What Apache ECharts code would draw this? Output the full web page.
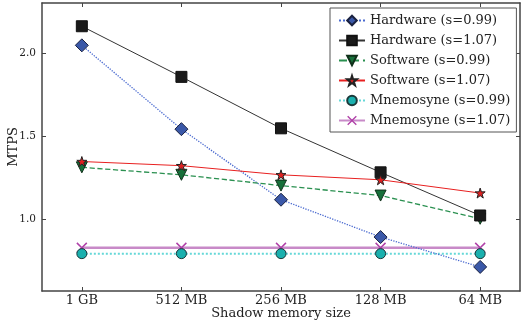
<!DOCTYPE html>
<html><head><meta charset="utf-8">
<script src="https://cdn.jsdelivr.net/npm/echarts@6/dist/echarts.min.js"></script>
<style>html,body{margin:0;padding:0;background:#fff}#c{width:524px;height:327px}</style>
</head><body><div id="c"></div>
<script>
const categories = ['1 GB','512 MB','256 MB','128 MB','64 MB'];
const yTicks = [1.0, 1.5, 2.0];
const hw099 = [2.045, 1.54, 1.115, 0.89, 0.71];
const hw107 = [2.16, 1.855, 1.545, 1.28, 1.02];
const sw099 = [1.31, 1.265, 1.2, 1.14, 1.0];
const sw107 = [1.345, 1.32, 1.265, 1.235, 1.155];
const mn099 = [0.79, 0.79, 0.79, 0.79, 0.79];
const mn107 = [0.825, 0.825, 0.825, 0.825, 0.825];

const F = 'DejaVu Serif';
const xIdx = categories.map((c,i)=>i);
const star = 'path://M5,0 L6.2,3.8 L10,3.8 L7,6.2 L8.1,10 L5,7.6 L1.9,10 L3,6.2 L0,3.8 L3.8,3.8 Z';
const xmark = 'path://M0,1 L1,0 L5,4 L9,0 L10,1 L6,5 L10,9 L9,10 L5,6 L1,10 L0,9 L4,5 Z';
function pts(arr){ return arr.map((v,i)=>[i,v]); }
function mk(name, data, sym, size, fill, border, bw, lineColor, lineType, lw, rot){
  return {name, type:'line', data: pts(data), symbol: sym, symbolSize: size, symbolRotate: rot||0,
    showAllSymbol:true,
    itemStyle:{color: fill, borderColor: border, borderWidth: bw},
    lineStyle:{color: lineColor, type: lineType, width: lw},
    emphasis:{disabled:true}, animation:false, z: 3};
}
const axLine = {show:true, onZero:false, lineStyle:{color:'#444', width:1.5}};
const chart = echarts.init(document.getElementById('c'), null, {renderer:'canvas'});
chart.setOption({
  animation:false,
  grid:{left:42, right:4, top:3, bottom:36, containLabel:false, outerBoundsMode:'none'},
  xAxis:[{type:'value', min:-0.4, max:4.4,
    axisLine:axLine,
    axisTick:{show:true, inside:true, length:4, lineStyle:{color:'#444'}, customValues:xIdx},
    axisLabel:{fontFamily:F, fontSize:13, color:'#222', margin:3, customValues:xIdx,
      formatter:v=>categories[Math.round(v)]},
    splitLine:{show:false},
    name:'Shadow memory size', nameLocation:'middle', nameGap:16, nameMoveOverlap:false,
    nameTextStyle:{fontFamily:F, fontSize:13, color:'#222'}},
   {type:'value', position:'top', min:-0.4, max:4.4,
    axisLine:axLine,
    axisTick:{show:true, inside:true, length:4, lineStyle:{color:'#444'}, customValues:xIdx},
    axisLabel:{show:false}, splitLine:{show:false}}],
  yAxis:[{type:'value', min:0.565, max:2.30,
    axisLine:axLine,
    axisTick:{show:true, inside:true, length:4, lineStyle:{color:'#444'}, customValues: yTicks},
    axisLabel:{fontFamily:F, fontSize:10.5, color:'#222', customValues: yTicks, margin:6,
      formatter:v=>v.toFixed(1)},
    splitLine:{show:false},
    name:'MTPS', nameLocation:'middle', nameGap:22, nameMoveOverlap:false,
    nameTextStyle:{fontFamily:F, fontSize:13, color:'#222'}},
   {type:'value', position:'right', min:0.565, max:2.30,
    axisLine:axLine,
    axisTick:{show:true, inside:true, length:4, lineStyle:{color:'#444'}, customValues: yTicks},
    axisLabel:{show:false}, splitLine:{show:false}}],
  legend:{left:330, top:8, orient:'vertical', itemGap:7, itemWidth:26, itemHeight:12,
    backgroundColor:'#fff', borderColor:'#555', borderWidth:1, padding:[6,6,5,8],
    textStyle:{fontFamily:F, fontSize:13, color:'#222'},
    data:['Hardware (s=0.99)','Hardware (s=1.07)','Software (s=0.99)','Software (s=1.07)','Mnemosyne (s=0.99)','Mnemosyne (s=1.07)']},
  series:[
    mk('Mnemosyne (s=1.07)', mn107, xmark, 11, '#b040a8', '#b040a8', 0, '#c88ac8', 'solid', 2.5),
    mk('Mnemosyne (s=0.99)', mn099, 'circle', 10, '#1ab0ae', '#1a3838', 1, '#66d8d8', 'dotted', 2),
    mk('Hardware (s=0.99)', hw099, 'diamond', 13, '#3a58a8', '#1a2240', 1, '#4a6ad0', 'dotted', 1.3),
    mk('Software (s=0.99)', sw099, 'triangle', 11, '#17703a', '#10301a', 1, '#2a9050', 'dashed', 1.3, 180),
    mk('Hardware (s=1.07)', hw107, 'rect', 11, '#1a1a1a', '#111', 1, '#333', 'solid', 1),
    mk('Software (s=1.07)', sw107, star, 10, '#e02020', '#222', 1, '#e82020', 'solid', 1),
  ]
});
</script></body></html>
